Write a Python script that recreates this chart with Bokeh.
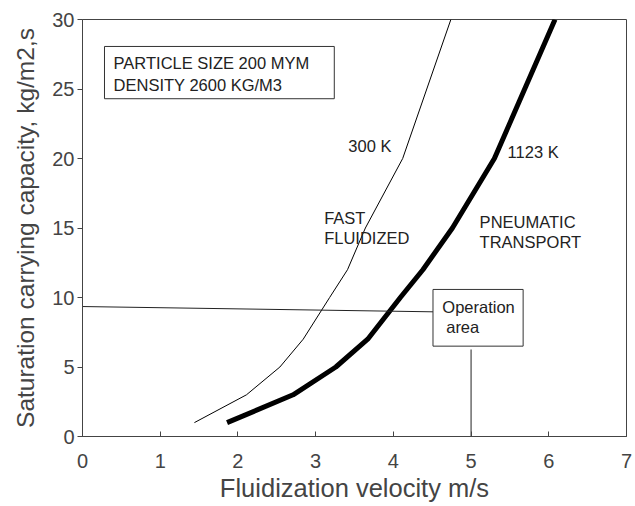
from bokeh.plotting import figure
from bokeh.embed import file_html
from bokeh.resources import INLINE
from bokeh.core.properties import value
from bokeh.models import Range1d, FixedTicker

# --- data ---
x_300k = [1.44, 2.11, 2.54, 2.84, 3.18, 3.41, 3.64, 4.12, 4.74]
y_300k = [1, 3, 5, 7, 10, 12, 15, 20, 30]

x_1123k = [1.86, 2.71, 3.26, 3.67, 4.09, 4.38, 4.76, 5.30, 6.08]
y_1123k = [1, 3, 5, 7, 10, 12, 15, 20, 30]

x_ticks = [0, 1, 2, 3, 4, 5, 6, 7]
y_ticks = [0, 5, 10, 15, 20, 25, 30]

# operation point connector lines
op_h_x = [0, 4.51]
op_h_y = [9.35, 8.97]
op_v_x = [5.0, 5.0]
op_v_y = [6.26, 0]

# annotation boxes (left, right, bottom, top)
info_box = (0.283, 3.24, 24.3, 28.06)
op_box = (4.51, 5.67, 6.5, 10.58)

labels_x = [0.40, 0.40, 3.42, 3.11, 3.11, 5.47, 5.11, 5.11, 4.63, 4.68]
labels_y = [26.9, 25.3, 20.9, 15.75, 14.3, 20.5, 15.4, 13.96, 9.35, 7.91]
labels_t = ["PARTICLE SIZE 200 MYM", "DENSITY 2600 KG/M3", "300 K", "FAST",
            "FLUIDIZED", "1123 K", "PNEUMATIC", "TRANSPORT", "Operation", "area"]

FONT = "Liberation Sans"
AXC = "#444444"

p = figure(width=634, height=505, output_backend="svg", toolbar_location=None,
           x_range=Range1d(0, 7), y_range=Range1d(0, 30),
           min_border_left=82, min_border_right=8, min_border_top=19, min_border_bottom=69)

p.xgrid.visible = False
p.ygrid.visible = False
p.outline_line_color = AXC
p.outline_line_width = 1
p.background_fill_color = "white"
p.border_fill_color = "white"

p.xaxis.ticker = FixedTicker(ticks=x_ticks)
p.yaxis.ticker = FixedTicker(ticks=y_ticks)
p.xaxis.axis_label = "Fluidization velocity m/s"
p.yaxis.axis_label = "Saturation carrying capacity, kg/m2,s"
for ax in (p.xaxis, p.yaxis):
    ax.axis_line_color = AXC
    ax.major_tick_line_color = AXC
    ax.minor_tick_line_color = None
    ax.major_label_text_font = FONT
    ax.major_label_text_font_size = "20px"
    ax.major_label_text_color = AXC
    ax.major_label_text_line_height = 1.0
    ax.axis_label_text_font = FONT
    ax.axis_label_text_font_style = "normal"
    ax.axis_label_text_color = AXC
    ax.axis_label_text_line_height = 1.0
p.xaxis.axis_label_text_font_size = "25.5px"
p.yaxis.axis_label_text_font_size = "24.5px"
p.xaxis.major_tick_in = 5
p.xaxis.major_tick_out = 0
p.xaxis.major_label_standoff = 17
p.xaxis.axis_label_standoff = 3
p.yaxis.major_tick_in = 0
p.yaxis.major_tick_out = 5
p.yaxis.major_label_standoff = 3
p.yaxis.axis_label_standoff = 10

# curves
p.line(x_300k, y_300k, line_color="black", line_width=1)
p.line(x_1123k, y_1123k, line_color="black", line_width=5)

# connector lines
p.line(op_h_x, op_h_y, line_color="#222222", line_width=1)
p.line(op_v_x, op_v_y, line_color="#222222", line_width=1)

# boxes
for b in (info_box, op_box):
    p.quad(left=[b[0]], right=[b[1]], bottom=[b[2]], top=[b[3]],
           fill_color="white", line_color="#333333", line_width=1)

p.text(x=labels_x, y=labels_y, text=labels_t, text_font=value(FONT),
       text_font_size="16.5px", text_color="#222222", text_align="left",
       text_baseline="middle")

open("out.html", "w").write(file_html(p, INLINE))
